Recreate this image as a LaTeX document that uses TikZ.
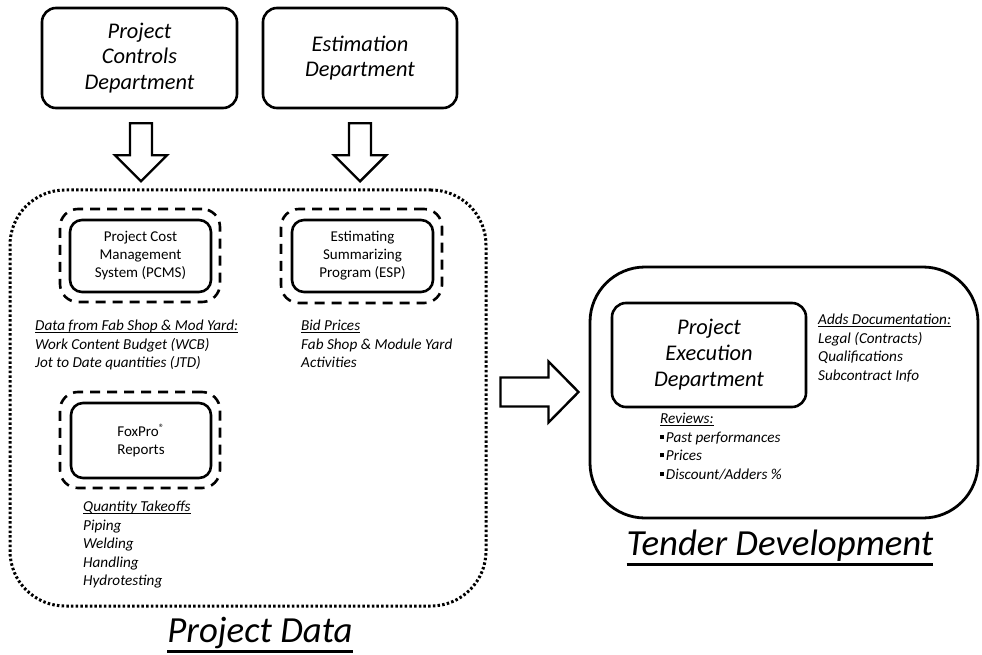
\documentclass[tikz,border=0pt]{standalone}
\usepackage{fontspec}
\setmainfont{Carlito}
\usetikzlibrary{calc}
\newcommand{\sqbullet}{\rule[0.22em]{0.28em}{0.28em}\hspace{0.1em}}
% underline at a chosen depth below the baseline: #1 depth, #2 thickness, #3 text
\newsavebox{\ulsavebox}
\newcommand{\ulat}[3]{\sbox{\ulsavebox}{#3}\rlap{\rule[-#1]{\wd\ulsavebox}{#2}}\usebox{\ulsavebox}}
\newcommand{\noteul}[1]{\ulat{0.17em}{0.075em}{#1}}
\newcommand{\titleul}[1]{\ulat{0.29em}{0.06em}{#1}}

\begin{document}
\begin{tikzpicture}[x=1pt,y=-1pt,
  solidbox/.style={draw, line width=2.6pt, rounded corners=14pt, align=center, inner sep=0pt},
  dashbox/.style={draw, line width=2.6pt, dash pattern=on 10pt off 7pt, rounded corners=18pt, inner sep=0pt},
  dotbox/.style={draw, line width=3pt, dash pattern=on 2.5pt off 2.2pt, rounded corners=55pt, inner sep=0pt},
  bigbox/.style={draw, line width=2.8pt, rounded corners=55pt, inner sep=0pt},
  deptfont/.style={font=\fontsize{22.4}{25.5}\selectfont\itshape},
  sysfont/.style={font=\fontsize{15}{18}\selectfont},
  note/.style={anchor=north west, align=left, inner sep=0pt, font=\fontsize{15.2}{18.5}\selectfont\itshape},
  title/.style={anchor=base, inner sep=0pt, font=\fontsize{36.8}{42}\selectfont\itshape},
  fatline/.style={draw, line width=2.4pt, line join=miter, fill=white},
  pics/downfat/.style={code={
    \path[fatline] (-11,0) -- (11,0) -- (11,32) -- (26,32) -- (0,58) -- (-26,32) -- (-11,32) -- cycle;}},
  pics/rightfat/.style={code={
    \path[fatline] (0,-14.5) -- (48,-14.5) -- (48,-30.5) -- (78,0) -- (48,30.5) -- (48,14.5) -- (0,14.5) -- cycle;}}
]
\useasboundingbox (0,0) rectangle (982,655);

% departments feeding the project data
\node[solidbox, deptfont, minimum width=195pt, minimum height=100pt] (pcd) at (139.5,58) {Project\\Controls\\Department};
\node[solidbox, deptfont, minimum width=194pt, minimum height=100pt] (est) at (360,58) {Estimation\\Department};

% project data container
\node[dotbox, minimum width=476pt, minimum height=416pt] (data) at (248,398) {};

% systems inside the project data
\node[dashbox, minimum width=160pt, minimum height=93pt] (pcmsout) at (140,255.5) {};
\node[solidbox, sysfont, rounded corners=12pt, minimum width=141pt, minimum height=72pt] (pcms) at (140.5,256) {Project Cost\\Management\\System (PCMS)};
\node[dashbox, minimum width=161pt, minimum height=94pt] (espout) at (361.5,256) {};
\node[solidbox, sysfont, rounded corners=12pt, minimum width=141pt, minimum height=72pt] (esp) at (362.5,256) {Estimating\\Summarizing\\Program (ESP)};
\node[dashbox, minimum width=160pt, minimum height=96pt] (foxout) at (140,440) {};
\node[solidbox, sysfont, rounded corners=12pt, minimum width=140pt, minimum height=75pt] (fox) at (141,440.5) {FoxPro\textsuperscript{\textregistered}\\Reports};

\node[note] (pcmsnote) at (35,320) {\noteul{Data from Fab Shop \& Mod Yard:}\\Work Content Budget (WCB)\\Jot to Date quantities (JTD)};
\node[note] (espnote) at (301,320) {\noteul{Bid Prices}\\Fab Shop \& Module Yard\\Activities};
\node[note] (foxnote) at (83,501) {\noteul{Quantity Takeoffs}\\Piping\\Welding\\Handling\\Hydrotesting};

\node[title] (datatitle) at (260,642) {\titleul{Project Data}};

% tender development
\node[bigbox, minimum width=388pt, minimum height=251pt] (tender) at (784,392.5) {};
\node[solidbox, font=\fontsize{22.4}{26}\selectfont\itshape, minimum width=194pt, minimum height=104pt] (ped) at (709,355) {Project\\Execution\\Department};
\node[note] (docnote) at (818,314) {\noteul{Adds Documentation:}\\Legal (Contracts)\\Qualifications\\Subcontract Info};
\node[note] (revnote) at (660,413) {\noteul{Reviews:}\\\sqbullet Past performances\\\sqbullet Prices\\\sqbullet Discount/Adders \%};
\node[title] (tendertitle) at (780,555) {\titleul{Tender Development}};

% block arrows
\pic at ($(pcd.south)+(1.5,14)$) {downfat};
\pic at ($(est.south)+(0,14)$) {downfat};
\pic at ($(data.east)+(13,-6)$) {rightfat};
\end{tikzpicture}
\end{document}
